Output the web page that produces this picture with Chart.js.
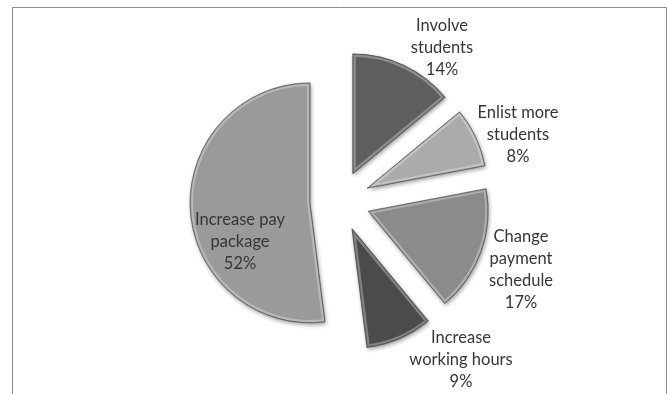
<!DOCTYPE html>
<html>
<head>
<meta charset="utf-8">
<script src="https://cdn.jsdelivr.net/npm/chart.js@4"></script>
<style>
  body { margin: 0; background: #fff; }
</style>
</head>
<body>
<canvas id="pieChart" width="670" height="394"></canvas>
<script>
// Data
const categories = [
    ['Involve', 'students'],
    ['Enlist more', 'students'],
    ['Change', 'payment', 'schedule'],
    ['Increase', 'working hours'],
    ['Increase pay', 'package']
];
const values = [14, 8, 17, 9, 52];
const sliceColors = ['#5e5e5e', '#ababab', '#8b8b8b', '#4b4b4b', '#9a9a9a'];

// label placement, relative to the pie centre (layout only)
const labelOffsets = [[102, -153], [178, -66], [181, 69], [121, 159], [-100, 41]];

// Draw exploded wedges: move each slice along its bisector by `offset` px
Chart.ArcElement.prototype.draw = function (ctx) {
    const o = this.options;
    const mid = (this.startAngle + this.endAngle) / 2;
    const off = o.offset || 0;
    const cx = this.x + Math.cos(mid) * off;
    const cy = this.y + Math.sin(mid) * off;
    const r = this.outerRadius;

    ctx.save();
    ctx.beginPath();
    ctx.moveTo(cx, cy);
    ctx.arc(cx, cy, r, this.startAngle, this.endAngle);
    ctx.closePath();

    // drop shadow
    ctx.shadowColor = 'rgba(0,0,0,0.4)';
    ctx.shadowBlur = 4;
    ctx.shadowOffsetX = 1;
    ctx.shadowOffsetY = 2;
    ctx.fillStyle = o.backgroundColor;
    ctx.fill();
    ctx.shadowColor = 'transparent';

    // bevel-ish highlight on the inner rim
    ctx.save();
    ctx.clip();
    ctx.lineJoin = 'round';
    ctx.lineWidth = 6;
    ctx.strokeStyle = 'rgba(255,255,255,0.3)';
    ctx.stroke();
    ctx.lineWidth = 2;
    ctx.strokeStyle = 'rgba(0,0,0,0.18)';
    ctx.stroke();
    ctx.restore();

    ctx.lineJoin = 'round';
    ctx.lineWidth = o.borderWidth;
    ctx.strokeStyle = o.borderColor;
    ctx.stroke();
    ctx.restore();
};

// Outer frame of the chart
const framePlugin = {
    id: 'frame',
    beforeDraw(chart) {
        const ctx = chart.ctx;
        ctx.save();
        ctx.strokeStyle = '#8c8c8c';
        ctx.lineWidth = 1;
        ctx.beginPath();
        ctx.moveTo(12.5, chart.height);
        ctx.lineTo(12.5, 7.5);
        ctx.lineTo(666.5, 7.5);
        ctx.lineTo(666.5, chart.height);
        ctx.stroke();
        ctx.restore();
    }
};

// Category + percent labels
const labelPlugin = {
    id: 'sliceLabels',
    afterDatasetsDraw(chart) {
        const ctx = chart.ctx;
        const arcs = chart.getDatasetMeta(0).data;
        const total = values.reduce((a, b) => a + b, 0);
        ctx.save();
        ctx.font = '16.5px Lato';
        ctx.fillStyle = '#363636';
        ctx.textAlign = 'center';
        ctx.textBaseline = 'middle';
        const lineH = 22;
        arcs.forEach((arc, i) => {
            const lines = categories[i].concat(Math.round(values[i] / total * 100) + '%');
            const x = arc.x + labelOffsets[i][0];
            const y0 = arc.y + labelOffsets[i][1] - (lines.length - 1) * lineH / 2;
            lines.forEach((t, k) => ctx.fillText(t, x, y0 + k * lineH));
        });
        ctx.restore();
    }
};

new Chart(document.getElementById('pieChart'), {
    type: 'pie',
    data: {
        labels: categories,
        datasets: [{
            data: values,
            backgroundColor: sliceColors,
            borderColor: 'rgba(60,60,60,0.6)',
            borderWidth: 1,
            offset: 30
        }]
    },
    options: {
        responsive: false,
        animation: false,
        events: [],
        radius: 120,
        layout: { padding: { left: 10, top: 8, right: 0, bottom: 0 } },
        plugins: {
            legend: { display: false },
            tooltip: { enabled: false }
        }
    },
    plugins: [framePlugin, labelPlugin]
});
</script>
</body>
</html>
